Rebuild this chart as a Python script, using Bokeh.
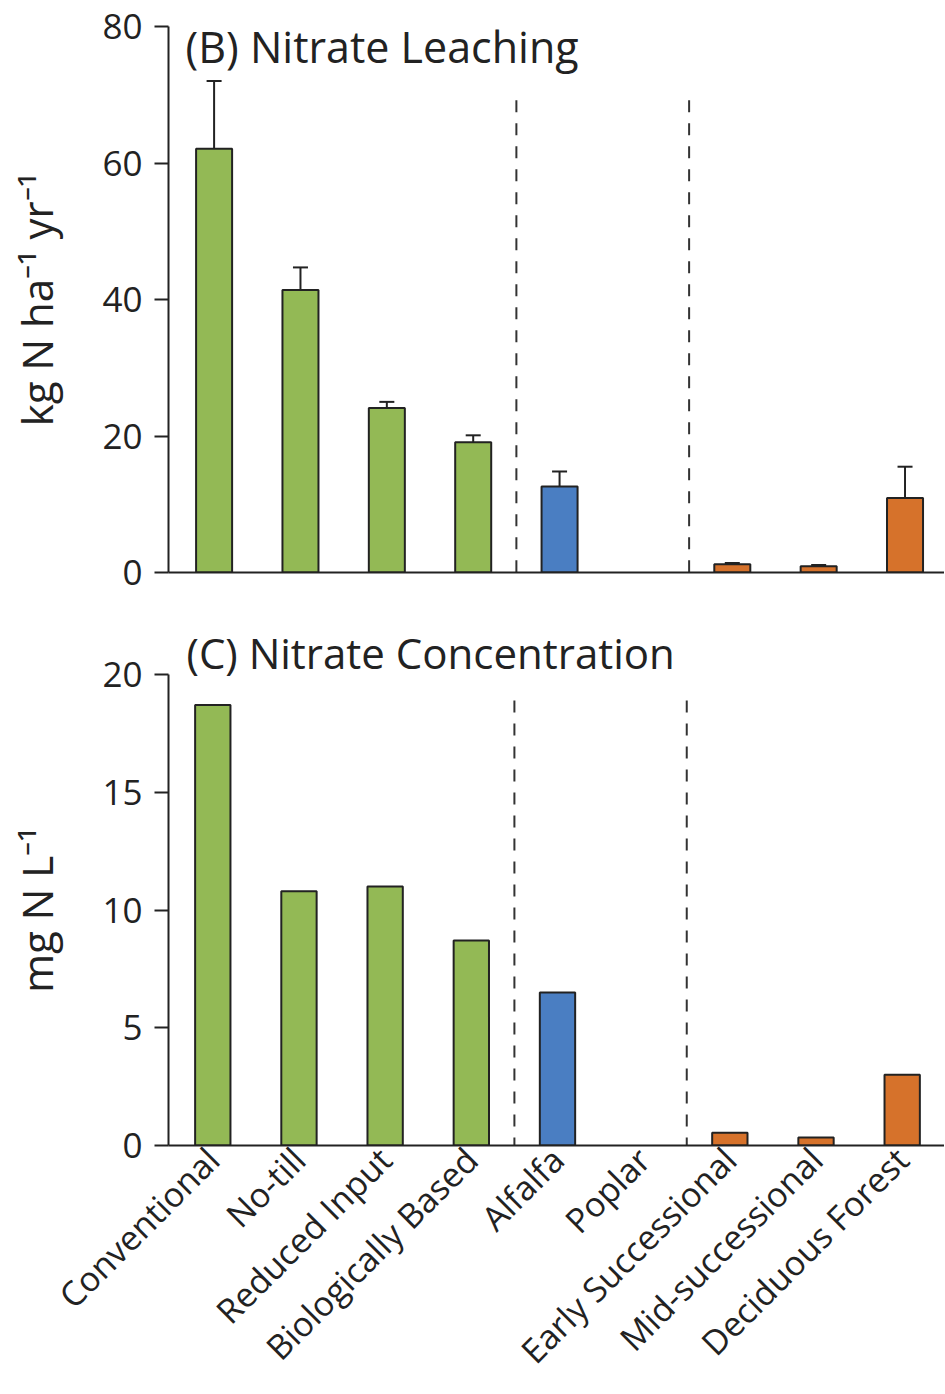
import math
from bokeh.plotting import figure
from bokeh.models import Range1d, FixedTicker, Whisker, TeeHead, ColumnDataSource, Label
from bokeh.layouts import column
from bokeh.embed import file_html
from bokeh.resources import INLINE

# ---------------- data ----------------
categories = ["Conventional", "No-till", "Reduced Input", "Biologically Based",
              "Alfalfa", "Poplar", "Early Successional", "Mid-successional",
              "Deciduous Forest"]
groups = ["annual", "annual", "annual", "annual",
          "perennial", "perennial",
          "successional", "successional", "successional"]
leaching = [62.1, 41.4, 24.1, 19.1, 12.6, 0.0, 1.2, 0.9, 10.9]          # kg N ha-1 yr-1
leaching_err_top = [72.0, 44.7, 25.0, 20.1, 14.8, 0.0, 1.4, 1.1, 15.5]
concentration = [18.7, 10.8, 11.0, 8.7, 6.5, 0.0, 0.54, 0.34, 3.0]      # mg N L-1
y_ticks_leaching = [0, 20, 40, 60, 80]
y_ticks_conc = [0, 5, 10, 15, 20]

group_colors = {"annual": "#93B955", "perennial": "#4A7EC2", "successional": "#D6722B"}

FONT = "Open Sans"
INK = "#222222"

idx = list(range(len(categories)))
colors = [group_colors[g] for g in groups]


def bar_source(vals, errs=None):
    keep = [i for i in idx if vals[i] > 0]
    d = dict(x=keep, top=[vals[i] for i in keep], color=[colors[i] for i in keep])
    if errs is not None:
        d["err"] = [errs[i] for i in keep]
    return ColumnDataSource(d)


def style_y(p, ticks, label, standoff):
    ax = p.yaxis[0]
    ax.ticker = FixedTicker(ticks=ticks)
    ax.minor_tick_line_color = None
    ax.major_tick_out = 14
    ax.major_tick_in = 0
    ax.major_tick_line_width = 2
    ax.major_tick_line_color = INK
    ax.axis_line_width = 2
    ax.axis_line_color = INK
    ax.major_label_text_font = FONT
    ax.major_label_text_font_size = "35px"
    ax.major_label_text_color = INK
    ax.major_label_standoff = 12
    ax.axis_label = label
    ax.axis_label_text_font = FONT
    ax.axis_label_text_font_size = "42px"
    ax.axis_label_text_font_style = "normal"
    ax.axis_label_text_color = INK
    ax.axis_label_standoff = standoff


def base_fig(height, xr, yr, left, top, bottom):
    p = figure(width=944, height=height, x_range=xr, y_range=yr,
               output_backend="svg", toolbar_location=None,
               min_border_left=left, min_border_right=0,
               min_border_top=top, min_border_bottom=bottom)
    p.outline_line_color = None
    p.grid.visible = False
    p.background_fill_color = "white"
    p.border_fill_color = "white"
    return p


# ---------------- panel B ----------------
p1 = base_fig(610, Range1d(-0.528, 8.457), Range1d(0, 80), 168, 26, 38)
src1 = bar_source(leaching, leaching_err_top)
p1.vbar(x="x", top="top", width=0.417, source=src1, fill_color="color",
        line_color=INK, line_width=2)
p1.add_layout(Whisker(source=src1, base="x", lower="top", upper="err",
                      dimension="height", line_width=2, line_color=INK,
                      lower_head=None,
                      upper_head=TeeHead(size=15, line_width=2, line_color=INK)))
p1.segment(x0=[3.5, 5.5], y0=[69.2, 69.2], x1=[3.5, 5.5], y1=[0, 0],
           line_dash="12 11", line_width=2, line_color="#333333")
p1.xaxis.ticker = FixedTicker(ticks=[])
p1.xaxis.axis_line_width = 2
p1.xaxis.axis_line_color = INK
p1.xaxis.major_tick_line_color = None
p1.xaxis.minor_tick_line_color = None
style_y(p1, y_ticks_leaching, "kg N ha\u207b\u00b9 yr\u207b\u00b9", 34)
p1.add_layout(Label(x=-0.33, y=77.0, text="(B) Nitrate Leaching",
                    text_font=FONT, text_font_size="43px", text_color=INK,
                    text_align="left", text_baseline="alphabetic"))

# ---------------- panel C ----------------
p2 = base_fig(782, Range1d(-0.514, 8.491), Range1d(0, 20), 165, 64, 247)
src2 = bar_source(concentration)
p2.vbar(x="x", top="top", width=0.41, source=src2, fill_color="color",
        line_color=INK, line_width=2)
p2.segment(x0=[3.5, 5.5], y0=[18.9, 18.9], x1=[3.5, 5.5], y1=[0, 0],
           line_dash="12 11", line_width=2, line_color="#333333")
xa = p2.xaxis[0]
xa.ticker = FixedTicker(ticks=idx)
xa.major_label_overrides = {i: c for i, c in zip(idx, categories)}
xa.major_label_orientation = math.pi / 4
xa.major_tick_line_color = None
xa.major_tick_out = 0
xa.major_tick_in = 0
xa.minor_tick_line_color = None
xa.axis_line_width = 2
xa.axis_line_color = INK
xa.major_label_text_font = FONT
xa.major_label_text_font_size = "34px"
xa.major_label_text_color = INK
xa.major_label_standoff = 8
style_y(p2, y_ticks_conc, "mg N L\u207b\u00b9", 34)
p2.title.text = "(C) Nitrate Concentration"
p2.title.align = "left"
p2.title.offset = 18
p2.title.standoff = -13
p2.title.text_font = FONT
p2.title.text_font_size = "42px"
p2.title.text_font_style = "normal"
p2.title.text_color = INK

layout = column(p1, p2, spacing=0)
open("out.html", "w").write(file_html(layout, INLINE))
